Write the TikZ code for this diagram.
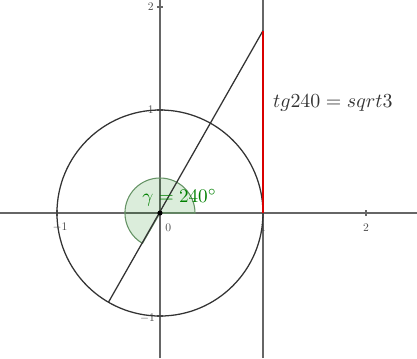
\documentclass[tikz,border=0pt]{standalone}
\usepackage{amssymb,amsmath}
\usetikzlibrary{positioning}

\begin{document}
\begin{tikzpicture}[x=1cm,y=1cm,
  axis/.style={draw=black!60,line width=0.4pt},
  ticklab/.style={scale=0.32,text=black!70},
  angfill/.style={fill=green!50!black,fill opacity=0.14,draw=green!30!black!60,line width=0.3pt}]
 \useasboundingbox (-1.553,-1.408) rectangle (2.495,2.068);
 \coordinate (O) at (0,0);
 \coordinate (P) at (1,0);
 \coordinate (T) at (1,1.77);
 \coordinate (A) at (240:1);
 % axes
 \draw[axis] (-1.553,0) -- (2.495,0);
 \draw[axis] (0,-1.408) -- (0,2.068);
 \draw[axis] (1,-1.408) -- (1,2.068);
 \foreach \t in {-1,1,2} {
  \draw[axis] (\t,-0.03) -- (\t,0.03);
  \draw[axis] (-0.03,\t) -- (0.03,\t);
 }
 \node[ticklab] (xm1) at (-0.97,-0.14) {$-1$};
 \node[ticklab] (x0) at (0.08,-0.14) {$0$};
 \node[ticklab] (x1) at (1.0,-0.14) {$1$};
 \node[ticklab] (x2) at (2.0,-0.14) {$2$};
 \node[ticklab] (y1) at (-0.09,1.0) {$1$};
 \node[ticklab] (ym1) at (-0.12,-1.02) {$-1$};
 \node[ticklab] (y2) at (-0.09,2.0) {$2$};
 % angle
 \filldraw[angfill] (O) -- (0.34,0) arc (0:240:0.34) -- cycle;
 % circle and lines
 \draw[black!80,line width=0.35pt] (O) circle (1);
 \draw[black!80,line width=0.35pt] (T) -- (A);
 \draw[red!85!black,line width=0.7pt] (P) -- (T);
 \fill (O) circle (0.025);
 \node[text=green!50!black,scale=0.53] (gam) at (0.19,0.15) {$\gamma = 240^\circ$};
 \node[scale=0.55,anchor=west,text=black!80] (tg) at (1.03,1.07) {$tg240 = sqrt3$};
\end{tikzpicture}
\end{document}
